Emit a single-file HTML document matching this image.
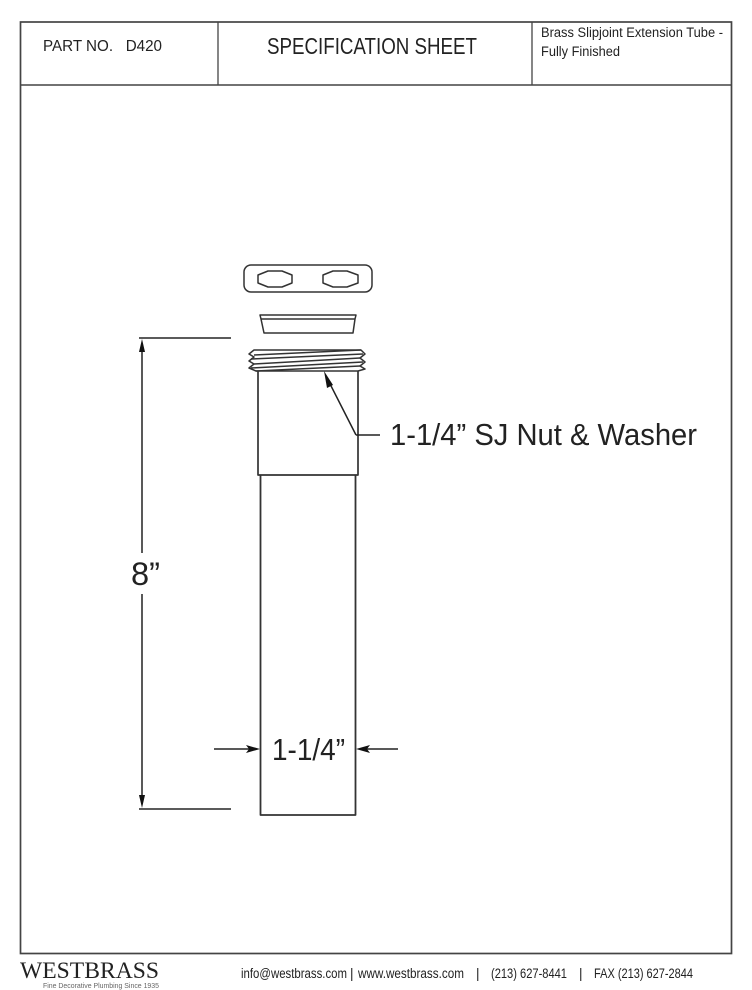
<!DOCTYPE html>
<html><head><meta charset="utf-8"><style>html,body{margin:0;padding:0;background:#fff}svg{display:block}text{font-family:"Liberation Sans",sans-serif;fill:#222}</style></head>
<body>
<svg width="752" height="990" viewBox="0 0 752 990" xmlns="http://www.w3.org/2000/svg">
<g fill="none" stroke="#444" stroke-width="1.7">
<rect x="20.5" y="22" width="711" height="931.5"/>
<path d="M20 85H732" stroke-width="1.6"/>
<path d="M218 22V85M532 22V85" stroke-width="1.3"/>
</g>
<text x="43" y="51" font-size="16" textLength="119" lengthAdjust="spacingAndGlyphs">PART NO.&#160;&#160;&#160;D420</text>
<text x="267" y="54" font-size="23" textLength="210" lengthAdjust="spacingAndGlyphs">SPECIFICATION SHEET</text>
<text x="541" y="37" font-size="13.5" textLength="182" lengthAdjust="spacingAndGlyphs">Brass Slipjoint Extension Tube -</text>
<text x="541" y="56" font-size="13.5" textLength="79" lengthAdjust="spacingAndGlyphs">Fully Finished</text>

<g fill="none" stroke="#333" stroke-width="1.5" stroke-linejoin="round">
<rect x="244" y="265" width="128" height="27" rx="7"/>
<path d="M258 275L268 271H282L292 275V283L282 287H268L258 283Z"/>
<path d="M323 275L333 271H347L358 275V283L347 287H333L323 283Z"/>
<path d="M260 315H356L355 319H261ZM261 319L264 333H353L355 319"/>
<path d="M254 350H361L365 354L360 358L365 362L360 366L365 369L358 371H256L249 368L254 364L249 361L254 357L249 354Z" fill="#fff"/>
<path d="M254 355L361 350M251 359L363 354M254 364L360 358M251 368L363 362M256 371L360 366" stroke-width="1.5"/>
<path d="M258 371V475H358V371" stroke-width="1.7"/>
<path d="M260.5 475V815H355.5V475" stroke-width="1.8"/>
</g>

<g fill="none" stroke="#222" stroke-width="1.5">
<path d="M139 338H231M139 809H231" stroke="#444" stroke-width="1.7"/>
<path d="M142 345V553M142 594V802"/>
<path d="M356 435H380M356 435L327 378"/>
<path d="M214 749H252M398 749H363"/>
</g>
<g fill="#111">
<path d="M142 339L145 352H139Z"/>
<path d="M142 808L145 795H139Z"/>
<path d="M324 371L333 385L327 388Z"/>
<path d="M260 749L246 745L249 749L246 753Z"/>
<path d="M356 749L370 745L367 749L370 753Z"/>
</g>

<text x="390" y="445" font-size="31" textLength="307" lengthAdjust="spacingAndGlyphs">1-1/4” SJ Nut &amp; Washer</text>
<text x="131" y="585" font-size="32" textLength="29" lengthAdjust="spacingAndGlyphs">8”</text>
<text x="272" y="760" font-size="31" textLength="73" lengthAdjust="spacingAndGlyphs">1-1/4”</text>

<text x="20" y="978" font-size="23" textLength="139" lengthAdjust="spacingAndGlyphs" style="font-family:'Liberation Serif',serif">WESTBRASS</text>
<text x="43" y="988" font-size="7.5" textLength="116" lengthAdjust="spacingAndGlyphs" style="fill:#666">Fine Decorative Plumbing Since 1935</text>
<g font-size="13.5">
<text x="241" y="978" textLength="106" lengthAdjust="spacingAndGlyphs">info@westbrass.com</text>
<text x="350" y="978">|</text>
<text x="358" y="978" textLength="106" lengthAdjust="spacingAndGlyphs">www.westbrass.com</text>
<text x="476" y="978">|</text>
<text x="491" y="978" textLength="76" lengthAdjust="spacingAndGlyphs">(213) 627-8441</text>
<text x="579" y="978">|</text>
<text x="594" y="978" textLength="99" lengthAdjust="spacingAndGlyphs">FAX (213) 627-2844</text>
</g>
</svg>
</body></html>
